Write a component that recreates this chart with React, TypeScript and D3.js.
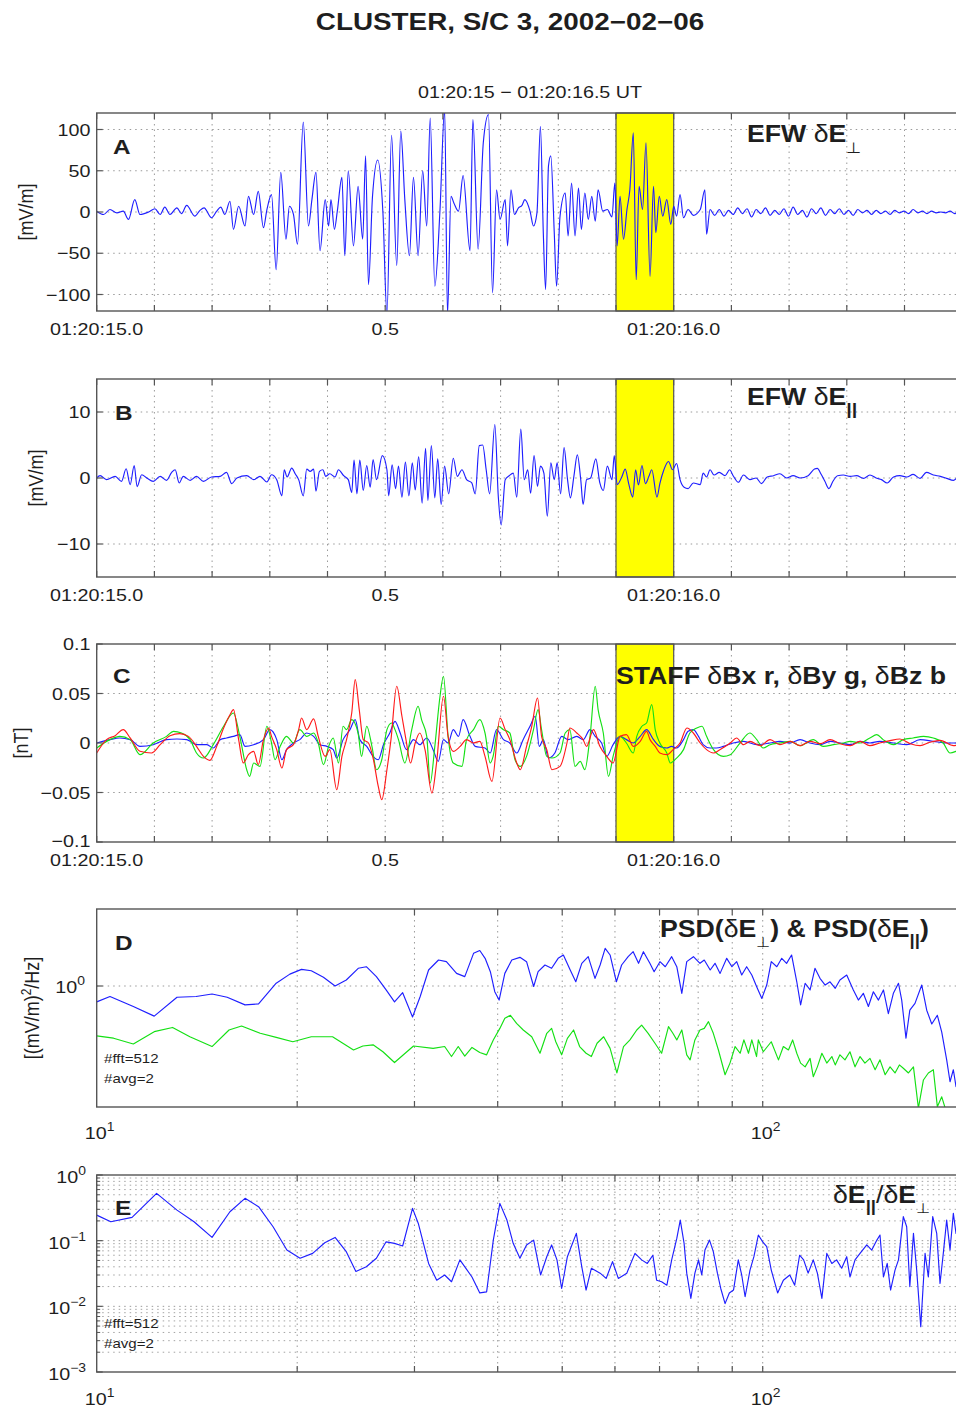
import React from 'react';
import * as d3 from 'd3';

type Pt = [number, number];

const W = 956;
const H = 1408;
const FONT = "'Liberation Sans', Arial, Helvetica, sans-serif";
const SX = 1.16;
const X0 = 96.7;
const X1T = 962.2;
const X1F = 963.2;
const INK = '#1e1e1e';
const AX = '#555';
const GRID = '#9a9a9a';

// ---------------- data ----------------
const timeDomain = [0, 1.5]; // seconds after 01:20:15 UT
const highlightWindow = [0.9, 1.0];
const timeLabelValues = [0, 0.5, 1.0];
const timeLabelTexts = ['01:20:15.0', '0.5', '01:20:16.0'];

const aTickValues = [-100, -50, 0, 50, 100];
const aTickLabels = ['\u2212100', '\u221250', '0', '50', '100'];
const bTickValues = [-10, 0, 10];
const bTickLabels = ['\u221210', '0', '10'];
const cTickValues = [-0.1, -0.05, 0, 0.05, 0.1];
const cTickLabels = ['\u22120.1', '\u22120.05', '0', '0.05', '0.1'];

// EFW dE perp [s, mV/m]
const efwPerp: Pt[] = [
  [0, 1], [0.012, -3], [0.023, 3], [0.035, -1], [0.046, 1], [0.055, -9], [0.066, 15], [0.075, -3], [0.09, 0], [0.101, 4],
  [0.11, -3], [0.118, 6], [0.127, -3], [0.139, 5], [0.147, -2], [0.156, 8], [0.17, -5], [0.179, 2], [0.186, 5], [0.199, -7],
  [0.208, 1], [0.215, 6], [0.222, -3], [0.231, 13], [0.237, -21], [0.246, 7], [0.257, -17], [0.263, 19], [0.272, -3], [0.28, 25],
  [0.289, -19], [0.295, 3], [0.303, 21], [0.311, -70], [0.319, 48], [0.328, -33], [0.334, 7], [0.341, -3], [0.348, -39], [0.358, 109],
  [0.367, -17], [0.373, 15], [0.38, 48], [0.387, -47], [0.396, 15], [0.402, -17], [0.406, 15], [0.412, -21], [0.417, 1], [0.425, 42],
  [0.43, -53], [0.436, 50], [0.445, -41], [0.453, 31], [0.461, -33], [0.466, 68], [0.471, -88], [0.478, 19], [0.487, 63], [0.496, 0],
  [0.503, -124], [0.511, 93], [0.52, -65], [0.527, 98], [0.534, 15], [0.542, -53], [0.549, 42], [0.557, -53], [0.565, 50], [0.572, -17],
  [0.578, 114], [0.586, -90], [0.595, 3], [0.603, 125], [0.608, -124], [0.614, 19], [0.619, 11], [0.627, 1], [0.635, 44], [0.647, -47],
  [0.652, 112], [0.661, -45], [0.67, 84], [0.679, 118], [0.686, -98], [0.693, 27], [0.699, -9], [0.708, 15], [0.712, -41], [0.718, 27],
  [0.724, -3], [0.731, 5], [0.737, 8], [0.742, 15], [0.751, 1], [0.757, -17], [0.763, -1], [0.769, 104], [0.774, -25], [0.778, -94],
  [0.783, 56], [0.787, 68], [0.793, -25], [0.797, -90], [0.803, -5], [0.812, 23], [0.817, -29], [0.823, 35], [0.829, -29], [0.835, 29],
  [0.84, -21], [0.846, 23], [0.852, -9], [0.858, 19], [0.864, -11], [0.869, 27], [0.877, 1], [0.885, 3], [0.893, -6], [0.898, 35],
  [0.902, -41], [0.907, 19], [0.913, -33], [0.919, 3], [0.924, 27], [0.93, 96], [0.935, -82], [0.94, 31], [0.946, 3], [0.952, 84],
  [0.959, -78], [0.965, 31], [0.969, -25], [0.975, 19], [0.981, -5], [0.988, 15], [0.995, -15], [1.0, 7], [1.005, -5], [1.011, 21],
  [1.017, -7], [1.025, 3], [1.034, -4], [1.046, 3], [1.054, 27], [1.057, -27], [1.063, 3],
  [1.071, -4], [1.079, 3], [1.087, -5], [1.095, 2], [1.103, -3], [1.111, 5], [1.119, -2], [1.127, 4], [1.135, -6], [1.143, 3],
  [1.151, -2], [1.159, 5], [1.167, -4], [1.175, 2], [1.183, -3], [1.191, 4], [1.199, -5], [1.207, 6], [1.215, -3], [1.223, 2],
  [1.231, -6], [1.239, 4], [1.247, -2], [1.255, 5], [1.263, -4], [1.271, 3], [1.279, -2], [1.287, 4], [1.295, -3], [1.303, 2],
  [1.311, -4], [1.319, 3], [1.327, -1], [1.335, 2], [1.343, -3], [1.351, 2], [1.359, -2], [1.367, 1], [1.375, -3], [1.383, 2],
  [1.391, -1], [1.399, 1], [1.407, -2], [1.415, 3], [1.423, -1], [1.431, 1], [1.439, -2], [1.447, 1], [1.455, -1], [1.463, 0],
  [1.471, -1], [1.479, 1], [1.487, -2], [1.495, 2], [1.5, 0],
];

// EFW dE parallel [s, mV/m]
const efwPar: Pt[] = [
  [0, 0], [0.006, 0.35], [0.017, -0.25], [0.032, 0.25], [0.043, -0.5], [0.051, 1.4], [0.058, -1], [0.065, 1.9], [0.07, -1.3], [0.078, 0.5],
  [0.087, 0], [0.098, -0.5], [0.11, 0.25], [0.121, -0.35], [0.13, 0.85], [0.136, 1.25], [0.143, -0.75], [0.15, 0.25], [0.162, -0.35], [0.173, 0.25],
  [0.185, -0.5], [0.199, 0.15], [0.214, 0.25], [0.225, 0.85], [0.234, -0.85], [0.243, 0], [0.26, 0.35], [0.272, -0.25], [0.283, 0.25], [0.295, -0.6],
  [0.303, 0.5], [0.312, -0.25], [0.321, -2.7], [0.325, 1.25], [0.33, 0.15], [0.338, 1.5], [0.344, 0.65], [0.35, -0.25], [0.358, -2.7], [0.364, 1.35],
  [0.37, 1], [0.376, 1.35], [0.38, -2], [0.386, 1], [0.392, 1.25], [0.397, 0.25], [0.404, 0.65], [0.413, 0.15], [0.419, 1.25], [0.428, 0.35],
  [0.436, -0.25], [0.442, -2.2], [0.446, 2.7], [0.451, -2.4], [0.456, 2.7], [0.462, -1.9], [0.468, 1.9], [0.474, -1.4], [0.479, 2.8], [0.485, -0.25],
  [0.495, 3.4], [0.503, 1.25], [0.506, -2.7], [0.512, 2], [0.518, -1.6], [0.523, 1.8], [0.529, -2.9], [0.535, 2.4], [0.541, -2.7], [0.547, 2.3],
  [0.552, -1.8], [0.558, 3.2], [0.564, -3.8], [0.57, 4.5], [0.574, -3.4], [0.58, 4.9], [0.586, -3], [0.591, 2.9], [0.597, -4], [0.603, 1.8],
  [0.61, -2.4], [0.618, 3], [0.625, 0.25], [0.633, 1.25], [0.641, -0.25], [0.65, -0.75], [0.656, -2.4], [0.663, 4.9], [0.669, 5], [0.675, 1.25],
  [0.681, -2.4], [0.69, 8.1], [0.696, -2.8], [0.701, -7.1], [0.708, -0.25], [0.715, 0.35], [0.722, 0.75], [0.728, -2.9], [0.735, 7.4], [0.741, -0.25],
  [0.747, 1.25], [0.752, -2.3], [0.758, 3.4], [0.764, -1.25], [0.769, 1.8], [0.775, 0.75], [0.781, -5.8], [0.787, 2.3], [0.793, -0.25], [0.798, 2.3],
  [0.804, -2.4], [0.81, 4.6], [0.816, -0.25], [0.821, -3], [0.827, 0.25], [0.833, 3.5], [0.839, -0.35], [0.843, -4], [0.849, -0.25], [0.856, 0],
  [0.865, 2.9], [0.872, -0.75], [0.878, -1.9], [0.885, 1.8], [0.893, -0.25], [0.897, 3.4], [0.902, -1], [0.91, 0.15], [0.916, 1.35], [0.922, -0.85],
  [0.929, -2.9], [0.934, 1.25], [0.939, -1.05], [0.945, 1.9], [0.951, -0.85], [0.957, 0.25], [0.962, 1.25], [0.971, -2.9], [0.976, -0.85], [0.983, 1.25],
  [0.991, 2.5], [0.998, 1.25], [1.005, 2.2], [1.011, -0.25], [1.018, -1.4], [1.025, -1.6], [1.034, -0.75], [1.046, -1], [1.051, 0.75], [1.057, 0.15],
  [1.063, 1.25], [1.07, 0.45], [1.079, 0.85], [1.089, 0.35], [1.097, 1.25], [1.103, 0.35], [1.112, -0.65], [1.121, 0.45], [1.132, -0.25], [1.143, 0],
  [1.152, -0.85], [1.162, 0.15], [1.173, 0.35], [1.184, 0.65], [1.196, 0], [1.207, 0.35], [1.219, 0], [1.233, 0.35], [1.244, 1.35], [1.249, 1.45],
  [1.255, 0.65], [1.262, -0.5], [1.269, -1.6], [1.276, -0.5], [1.284, 0.35], [1.294, 0.45], [1.306, 0.25], [1.317, 0.35], [1.329, -0.05], [1.34, 0.45],
  [1.352, -0.05], [1.36, -0.25], [1.37, -0.75], [1.381, 0.15], [1.392, 0.35], [1.404, 0.15], [1.415, 0.55], [1.427, -0.05], [1.438, 0.85], [1.45, 0.45],
  [1.462, 0.25], [1.473, -0.05], [1.485, -0.35], [1.496, 0.35], [1.5, 0],
];

// STAFF dBx (red) [s, nT]
const staffBx: Pt[] = [
  [0, -0.0101], [0.017, 0.0034], [0.032, 0.0074], [0.046, 0.0135], [0.058, 0.0051], [0.075, -0.0084], [0.095, -0.0101], [0.11, -0.0017], [0.127, 0.0074], [0.144, 0.0094],
  [0.159, 0.0067], [0.173, -0.0034], [0.185, -0.0135], [0.196, -0.0175], [0.208, -0.0034], [0.22, 0.0152], [0.231, 0.0286], [0.237, 0.0337], [0.246, 0.0034], [0.254, -0.0202],
  [0.263, -0.0118], [0.272, -0.0084], [0.28, -0.0219], [0.289, 0.0034], [0.298, 0.0152], [0.303, 0.0067], [0.312, -0.0067], [0.321, -0.0253], [0.329, -0.0067], [0.341, -0.0017],
  [0.35, 0.0135], [0.355, 0.0253], [0.364, 0.0135], [0.376, 0.0243], [0.384, 0.0067], [0.396, -0.0135], [0.404, -0.0067], [0.416, -0.0472], [0.425, -0.0135], [0.433, 0.0034],
  [0.442, 0.0303], [0.448, 0.064], [0.455, 0.0337], [0.462, 0.0034], [0.471, 0], [0.479, -0.0152], [0.488, -0.0438], [0.494, -0.0573], [0.503, -0.027], [0.51, 0.0034],
  [0.52, 0.0573], [0.529, 0.027], [0.536, 0.0034], [0.544, -0.0202], [0.552, 0], [0.56, 0.0101], [0.569, -0.0067], [0.581, -0.0506], [0.589, -0.0202], [0.601, 0.0472],
  [0.609, 0.0067], [0.618, -0.0084], [0.63, -0.0034], [0.641, 0.0034], [0.653, 0], [0.664, 0.0017], [0.673, -0.0135], [0.685, -0.0388], [0.699, 0.0253], [0.708, 0.0135],
  [0.716, 0.0034], [0.728, -0.0202], [0.734, -0.027], [0.745, -0.0034], [0.754, 0.0169], [0.764, 0.0455], [0.771, 0.0067], [0.78, -0.0067], [0.789, -0.027], [0.803, -0.0236],
  [0.815, 0], [0.82, 0.0152], [0.832, 0.0101], [0.843, 0.0034], [0.849, -0.0034], [0.861, 0.0135], [0.872, -0.0034], [0.884, -0.0135], [0.895, -0.0202], [0.907, 0.0067],
  [0.918, 0.0084], [0.93, -0.0034], [0.942, 0.0017], [0.953, 0.0118], [0.959, 0.0034], [0.968, -0.0034], [0.976, -0.0101], [0.988, -0.0118], [0.999, -0.0067], [1.011, 0],
  [1.023, 0.0152], [1.034, 0.0101], [1.046, 0], [1.057, -0.0067], [1.069, -0.0101], [1.08, -0.0067], [1.098, 0], [1.109, 0.0051], [1.121, -0.0017], [1.132, 0.0017],
  [1.15, -0.0027], [1.167, 0.0034], [1.184, -0.0017], [1.202, 0.0017], [1.219, -0.0027], [1.236, 0.0017], [1.254, -0.0007], [1.271, 0.0034], [1.288, -0.0007], [1.306, -0.0027],
  [1.323, 0.0017], [1.34, -0.0027], [1.357, 0], [1.375, 0.0024], [1.392, 0.004], [1.41, -0.0007], [1.427, -0.0027], [1.444, 0.0007], [1.462, 0.0027], [1.485, -0.0027], [1.5, 0],
];

// STAFF dBy (green) [s, nT]
const staffBy: Pt[] = [
  [0, -0.0051], [0.023, 0.0034], [0.04, 0.0067], [0.058, 0.0034], [0.075, -0.0118], [0.098, 0], [0.121, 0.0067], [0.133, 0.0118], [0.147, 0.0101], [0.162, 0.0034],
  [0.173, -0.0101], [0.185, -0.0152], [0.202, -0.0017], [0.22, 0.0169], [0.237, 0.0303], [0.248, 0.0067], [0.26, -0.027], [0.265, -0.0337], [0.272, -0.0202], [0.283, -0.0236],
  [0.295, 0.0169], [0.303, 0], [0.309, -0.0169], [0.318, -0.0034], [0.329, 0.0067], [0.341, 0], [0.352, 0.0135], [0.364, 0.0067], [0.376, 0.0101], [0.384, 0],
  [0.393, -0.0219], [0.402, -0.0034], [0.41, 0.0051], [0.419, -0.0202], [0.427, 0.0169], [0.433, 0.0135], [0.442, 0.0236], [0.453, 0.0101], [0.459, -0.0135], [0.468, 0.0169],
  [0.477, -0.0034], [0.485, -0.027], [0.494, -0.0169], [0.503, 0.0135], [0.511, 0.0202], [0.517, 0.0135], [0.523, 0.0034], [0.534, -0.0202], [0.546, 0.0135], [0.557, 0.0371],
  [0.563, 0.0236], [0.572, 0.0067], [0.578, -0.0404], [0.586, -0.0034], [0.595, 0.0472], [0.601, 0.0674], [0.609, 0.0067], [0.618, -0.0202], [0.633, -0.0236], [0.641, 0.0034],
  [0.653, 0.0135], [0.664, 0.0236], [0.673, 0.0101], [0.682, -0.0202], [0.687, -0.0135], [0.696, 0.0169], [0.705, 0.0135], [0.716, 0.0101], [0.725, -0.0169], [0.734, -0.0236],
  [0.745, -0.0135], [0.757, 0.0135], [0.765, 0.0337], [0.771, 0.0135], [0.78, -0.0135], [0.789, -0.0152], [0.803, -0.0101], [0.812, 0.0101], [0.82, 0.0135], [0.829, -0.0236],
  [0.838, -0.0185], [0.846, -0.027], [0.855, 0.0067], [0.864, 0.0573], [0.869, 0.0337], [0.878, 0.0101], [0.887, -0.0337], [0.895, -0.0135], [0.907, 0.0067], [0.918, 0],
  [0.93, -0.0101], [0.936, 0.0067], [0.945, 0.0169], [0.953, 0.0202], [0.962, 0.0388], [0.968, 0.0135], [0.976, 0], [0.988, -0.0101], [0.994, -0.0202], [1.005, -0.0152],
  [1.017, -0.0067], [1.028, 0.0101], [1.04, 0.0152], [1.049, 0.0169], [1.057, 0.0067], [1.069, -0.0067], [1.086, -0.0135], [1.098, -0.0118], [1.115, 0], [1.132, 0.0101],
  [1.144, 0.0034], [1.155, -0.0051], [1.167, -0.0017], [1.184, 0], [1.202, 0.0017], [1.219, -0.0027], [1.242, 0.0034], [1.259, -0.0034], [1.277, -0.0017], [1.294, 0],
  [1.306, 0.0017], [1.323, 0], [1.34, 0.0051], [1.352, 0.0084], [1.363, 0.0034], [1.381, -0.0017], [1.398, 0.0034], [1.415, 0.0051], [1.433, 0.0067], [1.45, 0.0051],
  [1.467, 0], [1.479, -0.0101], [1.489, -0.0084], [1.5, -0.005],
];

// STAFF dBz (blue) [s, nT]
const staffBz: Pt[] = [
  [0, 0], [0.023, 0.0034], [0.04, 0.0051], [0.058, 0.0034], [0.075, -0.0034], [0.098, -0.0017], [0.121, 0.0034], [0.139, 0.004], [0.156, 0.0034], [0.173, -0.0017],
  [0.191, -0.0017], [0.202, -0.0051], [0.214, 0.0034], [0.225, 0.0051], [0.237, 0.0067], [0.248, 0.0084], [0.257, -0.0034], [0.272, -0.0017], [0.289, 0.0034], [0.3, 0.0135],
  [0.312, 0.0034], [0.321, -0.0169], [0.329, -0.0067], [0.341, 0], [0.352, 0.0034], [0.364, 0.0101], [0.376, 0.0067], [0.387, -0.0017], [0.399, -0.0034], [0.41, -0.0067],
  [0.416, -0.0152], [0.427, 0.0034], [0.439, 0.0135], [0.448, 0.0236], [0.456, 0.0034], [0.468, -0.0034], [0.479, -0.0135], [0.488, -0.0169], [0.497, -0.0017], [0.508, 0.0101],
  [0.517, 0.0219], [0.526, 0.0101], [0.537, -0.0067], [0.549, 0.0034], [0.56, -0.0017], [0.572, 0.0051], [0.583, -0.0067], [0.592, -0.0185], [0.601, 0.0034], [0.609, 0],
  [0.618, 0.0135], [0.627, 0.0067], [0.635, 0.0236], [0.647, 0.0067], [0.656, -0.0034], [0.673, -0.0051], [0.682, -0.0101], [0.693, 0.0135], [0.705, 0.0034], [0.716, 0],
  [0.728, -0.0101], [0.739, 0.0034], [0.751, 0.0169], [0.76, 0.027], [0.767, -0.0034], [0.774, 0.0034], [0.783, -0.0152], [0.794, -0.0101], [0.806, 0.0067], [0.817, 0.0034],
  [0.832, 0.0067], [0.843, 0.0034], [0.855, 0.0135], [0.864, 0.0067], [0.875, 0], [0.884, -0.0135], [0.895, -0.0017], [0.907, 0.0067], [0.918, 0.0034], [0.93, 0],
  [0.942, 0.0067], [0.953, 0.0135], [0.965, 0.0034], [0.976, -0.0034], [0.988, -0.0051], [0.996, -0.0034], [1.005, -0.0051], [1.017, 0.0034], [1.025, 0.0118], [1.034, 0.0135],
  [1.043, 0.0067], [1.051, -0.0017], [1.063, -0.0051], [1.074, -0.0051], [1.086, -0.0034], [1.103, 0], [1.121, 0.0017], [1.144, -0.0017], [1.167, 0], [1.184, 0.0017],
  [1.202, 0], [1.219, 0.0034], [1.236, 0], [1.254, -0.0017], [1.271, 0.0017], [1.288, 0], [1.306, -0.0017], [1.323, 0.0017], [1.34, 0], [1.357, 0.0017],
  [1.381, 0], [1.404, -0.0017], [1.427, 0.0034], [1.45, 0.0017], [1.473, 0], [1.489, 0], [1.5, 0],
];

// PSD of dE perp (blue) [Hz, (mV/m)^2/Hz]
const psdPerp: Pt[] = [
  [10, 0.52], [10.47, 0.65], [11.35, 0.43], [12.2, 0.29], [13.2, 0.63], [14.1, 0.65], [14.9, 0.72], [15.7, 0.63], [16.7, 0.46], [17.5, 0.48],
  [18.6, 1.12], [19.5, 1.63], [20.3, 1.98], [21.0, 1.87], [21.9, 1.43], [22.8, 1.0], [23.7, 1.28], [24.7, 2.07], [25.4, 2.21], [26.3, 1.47],
  [27.2, 0.85], [28.0, 0.52], [28.8, 0.76], [29.8, 0.28], [30.6, 0.65], [31.5, 1.93], [32.6, 2.91], [33.5, 2.72], [34.7, 1.68], [35.7, 1.47],
  [36.8, 3.83], [37.6, 4.3], [38.3, 3.12], [39.0, 1.8], [39.6, 0.79], [40.2, 0.56], [41.0, 1.68], [42.0, 2.91], [43.2, 3.25], [44.2, 2.72],
  [45.3, 0.98], [46.0, 1.8], [47.1, 2.37], [48.2, 2.07], [49.3, 3.12], [50.2, 3.58], [51.4, 1.93], [52.4, 1.19], [53.5, 2.54], [54.7, 3.34],
  [56.0, 1.37], [57.0, 2.37], [58.0, 4.71], [59.0, 3.58], [60.3, 1.19], [61.4, 2.37], [62.8, 3.34], [63.9, 4.1], [65.1, 2.54], [66.2, 4.1],
  [67.7, 2.54], [68.7, 1.8], [70.1, 2.72], [71.4, 2.21], [73.0, 3.34], [74.3, 2.21], [75.6, 0.74], [76.9, 2.72], [78.7, 3.34], [80.5, 2.54],
  [81.7, 2.91], [83.4, 1.93], [84.8, 2.54], [86.3, 1.68], [88.3, 3.12], [89.9, 2.21], [91.4, 2.72], [93.0, 1.57], [94.6, 2.21], [96.3, 1.57],
  [97.9, 0.98], [99.7, 0.6], [101.4, 1.04], [103, 2.72], [105, 2.21], [106.8, 3.12], [108.6, 2.54], [110.5, 3.58], [112.5, 1.19], [114, 0.46],
  [115.8, 1.12], [117.8, 0.85], [119.8, 2.07], [121.9, 1.37], [124.1, 1.04], [126.2, 1.19], [128.5, 0.91], [130.6, 1.28], [133.7, 1.57], [136.8, 0.85],
  [139.2, 0.56], [141.6, 0.74], [144.1, 0.43], [146.6, 0.79], [149.2, 0.56], [151.8, 0.85], [154.4, 0.32], [157.1, 0.74], [159.9, 1.12], [161.7, 0.56],
  [164.1, 0.117], [166.3, 0.37], [169.3, 0.49], [173.3, 1.04], [176.3, 0.37], [179.4, 0.21], [182.9, 0.3], [185.7, 0.15], [188.9, 0.048], [191.1, 0.0195],
  [193.3, 0.032], [195.1, 0.016], [197.5, 0.025], [200, 0.03],
];

// PSD of dE parallel (green) [Hz, (mV/m)^2/Hz]
const psdPar: Pt[] = [
  [10, 0.129], [10.6, 0.117], [11.35, 0.092], [12.2, 0.153], [13.0, 0.182], [13.8, 0.124], [14.9, 0.083], [15.8, 0.164], [16.5, 0.193], [17.6, 0.143],
  [18.6, 0.121], [19.7, 0.101], [21.0, 0.124], [22.6, 0.124], [24.3, 0.072], [25.1, 0.085], [26.0, 0.089], [26.9, 0.067], [28.0, 0.043], [29.9, 0.085],
  [32.0, 0.077], [33.3, 0.083], [34.1, 0.055], [34.9, 0.083], [35.7, 0.056], [36.6, 0.08], [37.6, 0.065], [38.5, 0.059], [39.4, 0.109], [40.3, 0.175],
  [41.0, 0.265], [41.8, 0.3], [42.7, 0.215], [43.7, 0.164], [45.0, 0.124], [46.3, 0.063], [47.4, 0.143], [48.2, 0.175], [48.9, 0.101], [49.9, 0.059],
  [50.9, 0.116], [52.0, 0.164], [53.1, 0.083], [54.3, 0.063], [55.3, 0.055], [56.4, 0.095], [57.7, 0.124], [59.0, 0.077], [60.4, 0.028], [61.8, 0.083],
  [63.2, 0.109], [64.7, 0.164], [65.8, 0.2], [67.3, 0.143], [68.9, 0.095], [70.5, 0.063], [72.2, 0.188], [73.3, 0.143], [74.3, 0.109], [75.6, 0.164],
  [76.9, 0.059], [77.8, 0.048], [79.1, 0.109], [80.5, 0.164], [81.7, 0.175], [82.9, 0.231], [84.3, 0.143], [85.8, 0.072], [87.8, 0.026], [89.3, 0.042],
  [90.9, 0.083], [92.5, 0.063], [93.7, 0.109], [95.2, 0.063], [96.3, 0.109], [97.9, 0.055], [98.5, 0.109], [100.2, 0.067], [103, 0.101], [105.6, 0.048],
  [107.4, 0.083], [109.3, 0.072], [110.9, 0.109], [112.5, 0.063], [114, 0.042], [115.8, 0.036], [117.8, 0.051], [119.1, 0.024], [120.8, 0.036], [122.7, 0.063],
  [124.8, 0.042], [127.0, 0.055], [128.5, 0.039], [130.6, 0.059], [132.9, 0.048], [135.2, 0.067], [137.6, 0.036], [140.0, 0.055], [142.4, 0.042], [144.9, 0.051],
  [147.5, 0.032], [150.0, 0.048], [152.7, 0.026], [155.3, 0.036], [158.0, 0.028], [160.4, 0.039], [162.6, 0.034], [165.5, 0.028], [168.4, 0.036], [171.3, 0.0066],
  [174.3, 0.021], [177.3, 0.028], [180.4, 0.032], [182.9, 0.007], [185.7, 0.0105], [188.9, 0.0054], [192, 0.004],
];

// ratio dE par / dE perp [Hz, ratio]
const ratioParPerp: Pt[] = [
  [10, 0.245], [10.5, 0.194], [11.3, 0.226], [12.3, 0.525], [13.2, 0.292], [14.0, 0.194], [14.9, 0.112], [15.85, 0.276], [16.7, 0.441], [17.5, 0.329],
  [18.4, 0.163], [19.3, 0.072], [20.2, 0.054], [21.1, 0.064], [22.0, 0.093], [22.8, 0.112], [23.7, 0.068], [24.5, 0.034], [25.4, 0.04], [26.3, 0.054],
  [27.2, 0.096], [28.0, 0.091], [28.8, 0.083], [29.8, 0.31], [30.4, 0.183], [31.5, 0.045], [32.4, 0.025], [33.3, 0.03], [34.1, 0.0237], [35.1, 0.051],
  [36.6, 0.028], [37.6, 0.016], [38.5, 0.0166], [39.4, 0.102], [40.3, 0.37], [41.3, 0.206], [42.2, 0.091], [43.2, 0.054], [44.2, 0.086], [45.3, 0.102],
  [46.4, 0.03], [47.4, 0.057], [48.2, 0.086], [49.1, 0.051], [49.9, 0.0187], [50.9, 0.057], [52.5, 0.129], [53.5, 0.04], [54.3, 0.0177], [55.3, 0.038],
  [57.0, 0.032], [58.2, 0.0266], [59.5, 0.048], [60.7, 0.0266], [62.5, 0.032], [64.3, 0.064], [65.8, 0.051], [67.1, 0.045], [68.4, 0.06], [69.3, 0.025],
  [70.5, 0.0237], [71.8, 0.021], [73.0, 0.051], [74.3, 0.108], [75.2, 0.206], [76.2, 0.091], [76.9, 0.032], [78.0, 0.0132], [79.1, 0.032], [80.1, 0.051],
  [81.0, 0.03], [81.9, 0.072], [83.2, 0.102], [84.3, 0.068], [85.5, 0.032], [86.5, 0.0187], [87.8, 0.011], [89.1, 0.016], [90.4, 0.0177], [91.9, 0.051],
  [93.0, 0.03], [94.1, 0.014], [95.7, 0.0356], [97.0, 0.057], [98.5, 0.122], [100, 0.096], [101.4, 0.081], [103, 0.0356], [105.3, 0.016], [107.4, 0.025],
  [109.8, 0.03], [111.7, 0.021], [113.6, 0.06], [115.2, 0.051], [117.0, 0.032], [119.1, 0.051], [120.8, 0.032], [122.7, 0.0132], [124.8, 0.064], [127.0, 0.045],
  [129.1, 0.051], [131.4, 0.038], [133.7, 0.057], [135.2, 0.028], [137.6, 0.051], [140.0, 0.064], [143.3, 0.086], [145.8, 0.072], [148.4, 0.102], [150.0, 0.122],
  [151.8, 0.028], [153.8, 0.045], [155.6, 0.0177], [158.0, 0.0356], [159.9, 0.051], [162.6, 0.232], [164.5, 0.163], [166.3, 0.02], [168.4, 0.129], [170.3, 0.0356],
  [172.7, 0.0049], [175.3, 0.064], [177.3, 0.028], [180.0, 0.232], [182.5, 0.129], [184.6, 0.0223], [186.7, 0.064], [188.9, 0.206], [191.1, 0.072], [193.3, 0.26],
  [195.1, 0.129], [197.5, 0.3], [200, 0.2],
];

const freqDomain = [10, 200];
const freqTickValues = [20, 30, 40, 50, 60, 70, 80, 90, 100, 200];
const freqLabelValues = [10, 100];
const freqLabelExps = ['1', '2'];
const psdDomain = [0.00691, 23.71];
const psdTickValues = [1];
const psdTickExps = ['0'];
const ratioDomain = [0.001, 1];
const ratioTickValues = [0.001, 0.01, 0.1, 1];
const ratioTickExps = ['\u22123', '\u22122', '\u22121', '0'];

// ---------------- helpers ----------------
function Txt(props: any) {
  const { x, y, anchor = 'start', size = 17, weight = 'normal', sx = SX, fill = INK, rotate = 0, children } = props;
  const tf = `translate(${x},${y}) scale(${sx},1)` + (rotate ? ` rotate(${rotate})` : '');
  return (
    <text transform={tf} textAnchor={anchor} fontSize={size} fontWeight={weight} fontFamily={FONT} fill={fill}>
      {children}
    </text>
  );
}

const BLUE = '#1f1fff';
const RED = '#ff1a1a';
const GREEN = '#14e014';

function TimePanel(props: any) {
  const { id, top, bottom, yDomain, yTicks, yLabels, series, labelY } = props;
  const x = d3.scaleLinear().domain(timeDomain).range([X0, X1T]);
  const y = d3.scaleLinear().domain(yDomain).range([bottom, top]);
  const line = d3.line<Pt>().x((d) => x(d[0])).y((d) => y(d[1])).curve(d3.curveMonotoneX);
  const ticks = d3.range(0, 16).map((i) => i / 10);
  const inner = ticks.filter((t) => t > 0 && t < 1.5);
  const gridY = yTicks.filter((v: number) => v > yDomain[0] && v < yDomain[1]);
  return (
    <g>
      <defs>
        <clipPath id={`clip-${id}`}>
          <rect x={X0} y={top} width={X1T - X0} height={bottom - top} />
        </clipPath>
      </defs>
      <rect x={X0} y={top} width={X1T - X0} height={bottom - top} fill="#fff" />
      {inner.map((t) => (
        <line key={`gx${t}`} x1={x(t)} x2={x(t)} y1={top} y2={bottom} stroke={GRID} strokeWidth={1} strokeDasharray="1.5 4" />
      ))}
      {gridY.map((v: number) => (
        <line key={`gy${v}`} x1={X0} x2={X1T} y1={y(v)} y2={y(v)} stroke={GRID} strokeWidth={1} strokeDasharray="1.5 4" />
      ))}
      <rect
        x={x(highlightWindow[0])}
        y={top}
        width={x(highlightWindow[1]) - x(highlightWindow[0])}
        height={bottom - top}
        fill="#ffff00"
        stroke="#555"
        strokeWidth={1.2}
      />
      <g clipPath={`url(#clip-${id})`}>
        {series.map((s: any, i: number) => (
          <path key={i} d={line(s.data) || ''} fill="none" stroke={s.color} strokeWidth={1.15} strokeLinejoin="round" />
        ))}
      </g>
      <rect x={X0} y={top} width={X1T - X0} height={bottom - top} fill="none" stroke={AX} strokeWidth={1.4} />
      {ticks.map((t) => (
        <g key={`tx${t}`}>
          <line x1={x(t)} x2={x(t)} y1={bottom} y2={bottom - 6} stroke={AX} strokeWidth={1.2} />
          <line x1={x(t)} x2={x(t)} y1={top} y2={top + 6} stroke={AX} strokeWidth={1.2} />
        </g>
      ))}
      {yTicks.map((v: number) => (
        <g key={`ty${v}`}>
          <line x1={X0} x2={X0 + 6} y1={y(v)} y2={y(v)} stroke={AX} strokeWidth={1.2} />
          <line x1={X1T} x2={X1T - 6} y1={y(v)} y2={y(v)} stroke={AX} strokeWidth={1.2} />
        </g>
      ))}
      {yTicks.map((v: number, i: number) => (
        <Txt key={`ly${v}`} x={90.5} y={y(v) + (v === yDomain[0] ? 5 : 6)} anchor="end" size={17}>
          {yLabels[i]}
        </Txt>
      ))}
      {timeLabelValues.map((t, i) => (
        <Txt key={`lx${t}`} x={x(t)} y={labelY} anchor="middle" size={17}>
          {timeLabelTexts[i]}
        </Txt>
      ))}
    </g>
  );
}

export default function App() {
  const xF = d3.scaleLog().domain(freqDomain).range([X0, X1F]);
  const D = { top: 909, bottom: 1107 };
  const E = { top: 1175, bottom: 1372 };
  const yD = d3.scaleLog().domain(psdDomain).range([D.bottom, D.top]);
  const yE = d3.scaleLog().domain(ratioDomain).range([E.bottom, E.top]);
  const lineD = d3.line<Pt>().x((d) => xF(d[0])).y((d) => yD(d[1]));
  const lineE = d3.line<Pt>().x((d) => xF(d[0])).y((d) => yE(d[1]));
  const eMinor: number[] = [];
  ratioTickValues.slice(0, 3).forEach((dec) => {
    for (let k = 2; k <= 9; k++) eMinor.push(k * dec);
  });
  const innerFreq = freqTickValues.filter((f) => f < 200);

  return (
    <div style={{ position: 'absolute', left: 0, top: 0, width: W, height: H, overflow: 'hidden', background: '#fff' }}>
      <svg width={W} height={H} style={{ display: 'block', overflow: 'hidden' }}>
        <rect x={0} y={0} width={W} height={H} fill="#fff" />
        <Txt x={510} y={30} anchor="middle" size={24} weight="bold">
          CLUSTER, S/C 3, 2002{'\u2212'}02{'\u2212'}06
        </Txt>
        <Txt x={530} y={98} anchor="middle" size={17}>
          01:20:15 {'\u2212'} 01:20:16.5 UT
        </Txt>

        {/* Panel A */}
        <TimePanel
          id="A"
          top={113}
          bottom={311}
          yDomain={[-120, 120]}
          yTicks={aTickValues}
          yLabels={aTickLabels}
          labelY={335}
          series={[{ data: efwPerp, color: BLUE }]}
        />
        <Txt x={113} y={154} size={21} weight="bold">A</Txt>
        <Txt x={747} y={142} size={23} weight="bold">
          EFW <tspan fontWeight="normal">{'\u03b4'}</tspan>E
          <tspan dy={11} fontSize={15} fontWeight="normal">{'\u22a5'}</tspan>
        </Txt>
        <Txt x={33} y={212} size={18} anchor="middle" rotate={-90}>[mV/m]</Txt>

        {/* Panel B */}
        <TimePanel
          id="B"
          top={379}
          bottom={577}
          yDomain={[-15, 15]}
          yTicks={bTickValues}
          yLabels={bTickLabels}
          labelY={601}
          series={[{ data: efwPar, color: BLUE }]}
        />
        <Txt x={115} y={420} size={21} weight="bold">B</Txt>
        <Txt x={747} y={405} size={23} weight="bold">
          EFW <tspan fontWeight="normal">{'\u03b4'}</tspan>E
          <tspan dy={10} fontSize={17}>||</tspan>
        </Txt>
        <Txt x={43} y={478} size={18} anchor="middle" rotate={-90}>[mV/m]</Txt>

        {/* Panel C */}
        <TimePanel
          id="C"
          top={644}
          bottom={842}
          yDomain={[-0.1, 0.1]}
          yTicks={cTickValues}
          yLabels={cTickLabels}
          labelY={866}
          series={[
            { data: staffBz, color: BLUE },
            { data: staffBy, color: GREEN },
            { data: staffBx, color: RED },
          ]}
        />
        <Txt x={113} y={683} size={21} weight="bold">C</Txt>
        <Txt x={616} y={684} size={23} weight="bold">
          STAFF <tspan fontWeight="normal">{'\u03b4'}</tspan>Bx r, <tspan fontWeight="normal">{'\u03b4'}</tspan>By g,{' '}
          <tspan fontWeight="normal">{'\u03b4'}</tspan>Bz b
        </Txt>
        <Txt x={28} y={743} size={18} anchor="middle" rotate={-90}>[nT]</Txt>

        {/* Panel D */}
        <defs>
          <clipPath id="clip-D">
            <rect x={X0} y={D.top} width={X1F - X0} height={D.bottom - D.top} />
          </clipPath>
          <clipPath id="clip-E">
            <rect x={X0} y={E.top} width={X1F - X0} height={E.bottom - E.top} />
          </clipPath>
        </defs>
        <g>
          {innerFreq.map((f) => (
            <line key={`dgx${f}`} x1={xF(f)} x2={xF(f)} y1={D.top} y2={D.bottom} stroke={GRID} strokeDasharray="1.5 4" />
          ))}
          {psdTickValues.map((v) => (
            <line key={`dgy${v}`} x1={X0} x2={X1F} y1={yD(v)} y2={yD(v)} stroke={GRID} strokeDasharray="1.5 4" />
          ))}
          <g clipPath="url(#clip-D)">
            <path d={lineD(psdPar) || ''} fill="none" stroke={GREEN} strokeWidth={1.15} strokeLinejoin="round" />
            <path d={lineD(psdPerp) || ''} fill="none" stroke={BLUE} strokeWidth={1.15} strokeLinejoin="round" />
          </g>
          <rect x={X0} y={D.top} width={X1F - X0} height={D.bottom - D.top} fill="none" stroke={AX} strokeWidth={1.4} />
          {freqTickValues.map((f) => (
            <g key={`dtx${f}`}>
              <line x1={xF(f)} x2={xF(f)} y1={D.bottom} y2={D.bottom - 6} stroke={AX} strokeWidth={1.2} />
              <line x1={xF(f)} x2={xF(f)} y1={D.top} y2={D.top + 6} stroke={AX} strokeWidth={1.2} />
            </g>
          ))}
          {psdTickValues.map((v, i) => (
            <g key={`dty${v}`}>
              <line x1={X0} x2={X0 + 6} y1={yD(v)} y2={yD(v)} stroke={AX} strokeWidth={1.2} />
              <line x1={X1F} x2={X1F - 6} y1={yD(v)} y2={yD(v)} stroke={AX} strokeWidth={1.2} />
              <Txt x={85} y={yD(v) + 7} anchor="end" size={17}>
                10<tspan dy={-8} fontSize={12}>{psdTickExps[i]}</tspan>
              </Txt>
            </g>
          ))}
          {freqLabelValues.map((f, i) => (
            <Txt key={`dlx${f}`} x={xF(f) + 3} y={1139} anchor="middle" size={17}>
              10<tspan dy={-8} fontSize={12}>{freqLabelExps[i]}</tspan>
            </Txt>
          ))}
          <Txt x={115} y={950} size={21} weight="bold">D</Txt>
          <Txt x={660} y={937} size={23} weight="bold">
            PSD(<tspan fontWeight="normal">{'\u03b4'}</tspan>E<tspan dy={10} fontSize={14} fontWeight="normal">{'\u22a5'}</tspan>
            <tspan dy={-10}>) &amp; PSD(</tspan>
            <tspan fontWeight="normal">{'\u03b4'}</tspan>E<tspan dy={9} fontSize={16}>||</tspan>
            <tspan dy={-9}>)</tspan>
          </Txt>
          <Txt x={104} y={1063} size={13}>#fft=512</Txt>
          <Txt x={104} y={1083} size={13}>#avg=2</Txt>
          <Txt x={39} y={1008} size={18} anchor="middle" rotate={-90}>
            [(mV/m)<tspan dy={-7} fontSize={12}>2</tspan>
            <tspan dy={7}>/Hz]</tspan>
          </Txt>
        </g>

        {/* Panel E */}
        <g>
          {innerFreq.map((f) => (
            <line key={`egx${f}`} x1={xF(f)} x2={xF(f)} y1={E.top} y2={E.bottom} stroke={GRID} strokeDasharray="1.5 4" />
          ))}
          {ratioTickValues.slice(1, 3).map((v) => (
            <line key={`egy${v}`} x1={X0} x2={X1F} y1={yE(v)} y2={yE(v)} stroke={GRID} strokeDasharray="1.5 4" />
          ))}
          {eMinor.map((v) => (
            <line key={`egm${v}`} x1={X0} x2={X1F} y1={yE(v)} y2={yE(v)} stroke={GRID} strokeWidth={0.9} strokeDasharray="1.5 4" />
          ))}
          <g clipPath="url(#clip-E)">
            <path d={lineE(ratioParPerp) || ''} fill="none" stroke={BLUE} strokeWidth={1.15} strokeLinejoin="round" />
          </g>
          <rect x={X0} y={E.top} width={X1F - X0} height={E.bottom - E.top} fill="none" stroke={AX} strokeWidth={1.4} />
          {freqTickValues.map((f) => (
            <g key={`etx${f}`}>
              <line x1={xF(f)} x2={xF(f)} y1={E.bottom} y2={E.bottom - 6} stroke={AX} strokeWidth={1.2} />
              <line x1={xF(f)} x2={xF(f)} y1={E.top} y2={E.top + 6} stroke={AX} strokeWidth={1.2} />
            </g>
          ))}
          {eMinor.map((v) => (
            <g key={`etm${v}`}>
              <line x1={X0} x2={X0 + 3.5} y1={yE(v)} y2={yE(v)} stroke={AX} strokeWidth={1} />
              <line x1={X1F} x2={X1F - 3.5} y1={yE(v)} y2={yE(v)} stroke={AX} strokeWidth={1} />
            </g>
          ))}
          {ratioTickValues.map((v, i) => (
            <g key={`ety${v}`}>
              <line x1={X0} x2={X0 + 6} y1={yE(v)} y2={yE(v)} stroke={AX} strokeWidth={1.2} />
              <line x1={X1F} x2={X1F - 6} y1={yE(v)} y2={yE(v)} stroke={AX} strokeWidth={1.2} />
              <Txt x={86} y={yE(v) + 8} anchor="end" size={17}>
                10<tspan dy={-8} fontSize={12}>{ratioTickExps[i]}</tspan>
              </Txt>
            </g>
          ))}
          {freqLabelValues.map((f, i) => (
            <Txt key={`elx${f}`} x={xF(f) + 3} y={1405} anchor="middle" size={17}>
              10<tspan dy={-8} fontSize={12}>{freqLabelExps[i]}</tspan>
            </Txt>
          ))}
          <Txt x={115} y={1215} size={21} weight="bold">E</Txt>
          <Txt x={833} y={1203} size={23} weight="bold">
            <tspan fontWeight="normal">{'\u03b4'}</tspan>E<tspan dy={9} fontSize={16}>||</tspan>
            <tspan dy={-9} fontWeight="normal">/{'\u03b4'}</tspan>E<tspan dy={10} fontSize={14} fontWeight="normal">{'\u22a5'}</tspan>
          </Txt>
          <Txt x={104} y={1328} size={13}>#fft=512</Txt>
          <Txt x={104} y={1348} size={13}>#avg=2</Txt>
        </g>
      </svg>
    </div>
  );
}
